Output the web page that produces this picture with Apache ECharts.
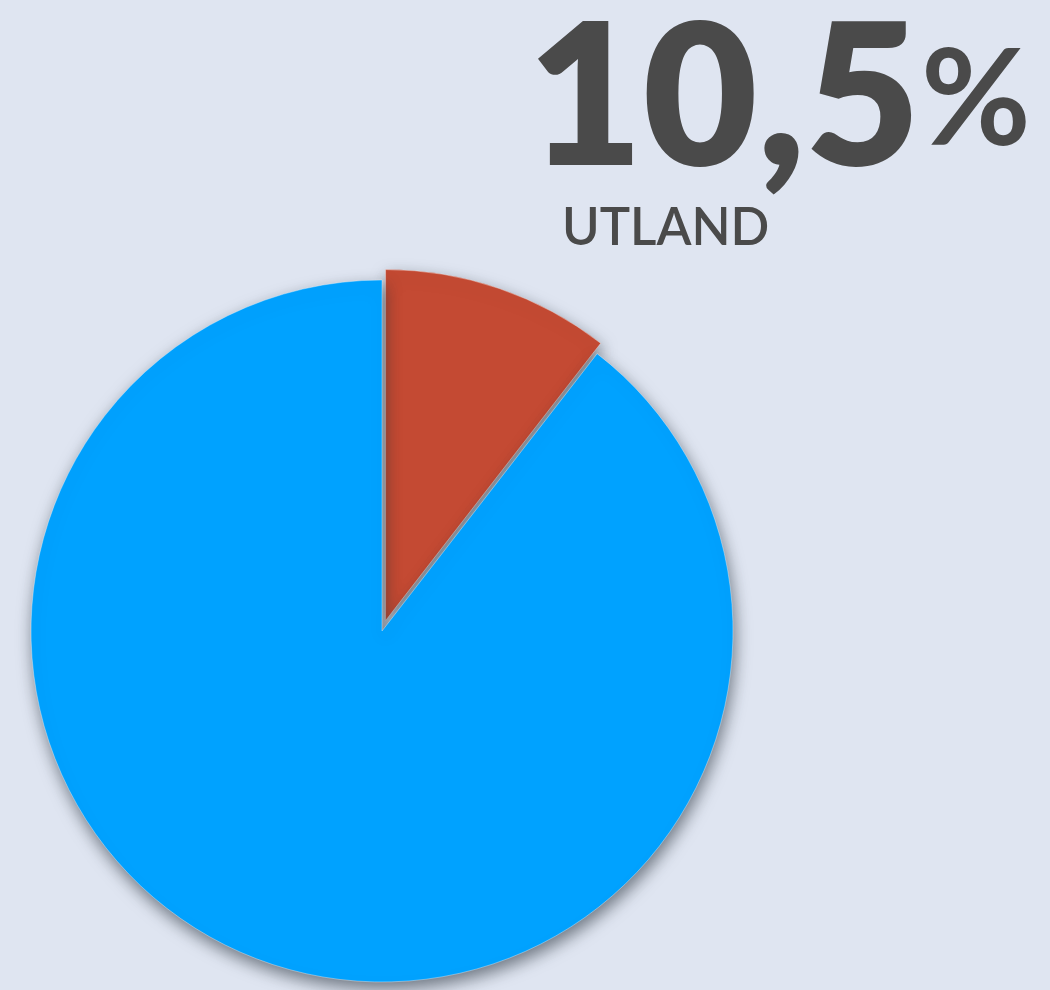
<!DOCTYPE html>
<html>
<head>
<meta charset="utf-8">
<style>
  html, body { margin: 0; padding: 0; background: #dfe5f1; }
  #chart { width: 1050px; height: 990px; }
</style>
<script src="https://cdn.jsdelivr.net/npm/echarts@6/dist/echarts.min.js"></script>
</head>
<body>
<div id="chart"></div>
<script>
const categories = ["Utland", "Sverige"];
const shares = [10.5, 89.5];
const colors = ["#c44a33", "#00a2ff"];
const headline = "UTLAND";

const chart = echarts.init(document.getElementById("chart"));

const pct = shares[0].toFixed(1).replace(".", ",");

chart.setOption({
    backgroundColor: "#dfe5f1",
    animation: false,
    graphic: [
        {
            type: "text",
            left: 528,
            top: 2,
            style: {
                text: pct,
                font: "800 198px Lato",
                fill: "#4a4a4a",
            },
        },
        {
            type: "text",
            left: 921,
            top: 35,
            style: {
                text: "%",
                font: "700 134px Lato",
                fill: "#4a4a4a",
            },
        },
        {
            type: "text",
            left: 562,
            top: 203,
            style: {
                text: headline,
                font: "600 51px Lato",
                fill: "#4a4a4a",
            },
        },
    ],
    series: [
        {
            type: "pie",
            center: [382, 631],
            radius: 351,
            startAngle: 90,
            clockwise: true,
            selectedMode: "single",
            selectedOffset: 11,
            label: { show: false },
            labelLine: { show: false },
            emphasis: { disabled: true },
            itemStyle: {
                borderColor: "rgba(255,255,255,0.35)",
                borderWidth: 1,
                shadowColor: "rgba(40,50,60,0.6)",
                shadowBlur: 16,
                shadowOffsetX: 2,
                shadowOffsetY: 7,
            },
            data: categories.map((c, i) => ({
                name: c,
                value: shares[i],
                selected: i === 0,
                itemStyle: { color: colors[i] },
            })),
        },
    ],
});
</script>
</body>
</html>
